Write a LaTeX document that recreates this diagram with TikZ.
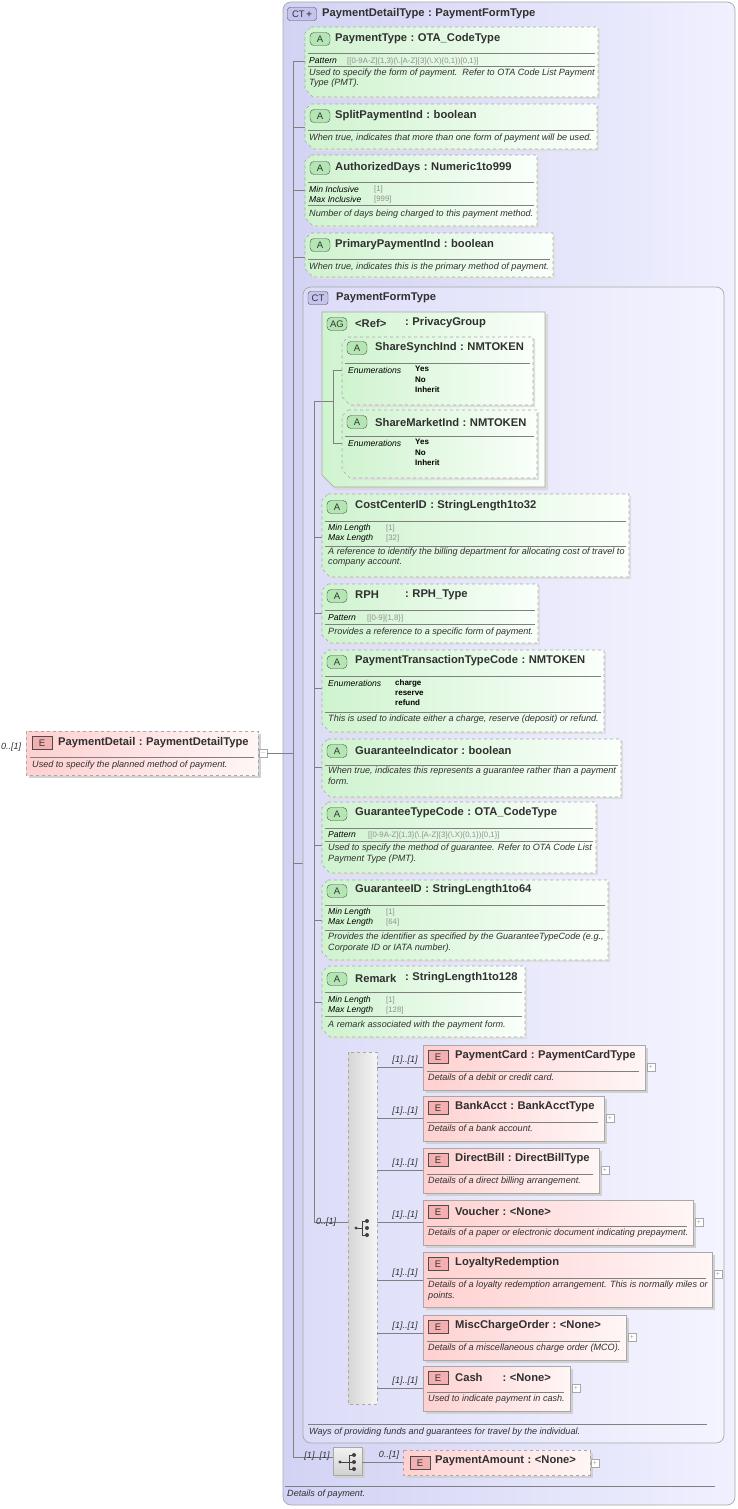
\documentclass[tikz,border=0pt]{standalone}
\usepackage{fontspec}
\setmainfont{Liberation Sans}
\definecolor{ctA}{HTML}{D2D2F4}\definecolor{ctB}{HTML}{F0F0FF}
\definecolor{ciA}{HTML}{DCDCF8}\definecolor{ciB}{HTML}{F4F4FF}
\definecolor{grA}{HTML}{CFF3CF}\definecolor{grB}{HTML}{FAFFFA}
\definecolor{pkA}{HTML}{FFD0D0}\definecolor{pkB}{HTML}{FFF6F6}
\definecolor{bg}{HTML}{A8A8A8}\definecolor{ln}{HTML}{808080}
\definecolor{txt}{HTML}{303030}\definecolor{fac}{HTML}{909090}
\definecolor{abg}{HTML}{B4E6B4}\definecolor{ebg}{HTML}{F4B0B0}\definecolor{cbg}{HTML}{C4C4EE}
\newcommand\cl{\hspace{3.5pt}:\hspace{3.5pt}}
\tikzset{
 ttl/.style={anchor=west,inner sep=0,font=\fontsize{11.2}{12}\bfseries\selectfont,text=txt},
 dsc/.style={anchor=west,inner sep=0,font=\fontsize{9.1}{10.2}\itshape\selectfont,text=txt,align=left},
 flab/.style={anchor=west,inner sep=0,font=\fontsize{8.6}{10}\itshape\selectfont,text=black},
 fval/.style={anchor=west,inner sep=0,font=\fontsize{7.8}{10}\selectfont,text=fac},
 fenum/.style={anchor=north west,inner sep=0,font=\fontsize{8}{10.3}\bfseries\selectfont,text=black,align=left},
 mult/.style={anchor=south,inner sep=0,font=\fontsize{9}{10}\itshape\selectfont,text=txt},
 conn/.style={draw=ln,line width=0.6pt},
 sepl/.style={draw=ln,line width=0.5pt},
 badge/.style={draw=black!70,rounded corners=2.5pt,minimum width=20pt,minimum height=13pt,inner sep=0,font=\fontsize{9.5}{10}\selectfont,text=black!80},
 plusbox/.style={draw=bg,fill=white,minimum size=8pt,inner sep=0,font=\fontsize{7}{7}\selectfont,text=bg},
}
\newcommand\abox[5]{%
 \fill[black!12] (#2+8,#3+2) -- (#4+2,#3+2) -- (#4+2,#5+2) -- (#2+10,#5+2) -- (#2+2,#5-6) -- (#2+2,#3+8) -- cycle;
 \path[left color=grA,right color=grB,draw=bg,dashed,line width=0.6pt] (#2+6,#3) -- (#4,#3) -- (#4,#5) -- (#2+8,#5) -- (#2,#5-8) -- (#2,#3+6) -- cycle;
 \coordinate (#1) at (#2,#3);}
\newcommand\ebox[6]{%
 \fill[black!18] (#2+3,#3+3) rectangle (#4+3,#5+3);
 \path[left color=pkA,right color=pkB,draw=bg,line width=0.6pt,#6] (#2,#3) rectangle (#4,#5);
 \coordinate (#1) at (#2,#3);}
\newcommand\abadge[3]{\node[badge,fill=abg,rounded corners=4pt] (#3) at (#1+10,#2) {A};}
\newcommand\ebadge[3]{\node[badge,rounded corners=0pt,fill=ebg] (#3) at (#1+10,#2) {E};}
\newcommand\hl[3]{\draw[sepl] (#1,#3) -- (#2,#3);}
\begin{document}
\begin{tikzpicture}[x=1pt,y=-1pt]
\useasboundingbox (0,0) rectangle (738,1509);
\fill[white] (0,0) rectangle (738,1509);
% outer CT
\path[left color=ctA,right color=ctB,draw=bg,rounded corners=8pt,line width=0.7pt] (283,2) rectangle (735,1505);
\node[badge,fill=cbg,minimum width=29pt] (ctb) at (302,14) {CT\textcolor{black!70}{\,\textbf{+}}};
\node[ttl] (ctt) at (322,14) {PaymentDetailType\cl PaymentFormType};
\hl{285}{715}{1486}
\node[dsc] (ctd) at (287,1494) {Details of payment.};
% main element
\ebox{pd}{26}{731}{258}{775}{dashed}
\ebadge{32}{743}{pdb}
\node[ttl] (pdt) at (58,743) {PaymentDetail\cl PaymentDetailType};
\hl{30}{254}{757}
\node[dsc] (pdd) at (32,765) {Used to specify the planned method of payment.};
\node[mult,anchor=west] (pdm) at (1,747) {0..[1]};
\node[plusbox] (pdm2) at (263,753) {$-$};
\coordinate (pdc) at (293,753);
\draw[conn] (pdm2.east) -- (pdc);
\coordinate (o1) at (293,61);\coordinate (o2) at (293,1457);
\draw[conn] (o1) -- (o2);
\foreach \yy in {61,127,190,257} \draw[conn] (293,\yy) -- (305,\yy);
\draw[conn] (293,863) -- (303,863);
% PaymentType
\abox{a1}{305}{27}{598}{97}
\abadge{310}{39}{a1b}
\node[ttl] at (335,39) {PaymentType\cl OTA\_CodeType};
\hl{308}{595}{53}
\node[flab] at (309,61) {Pattern};
\node[fval] at (347,61) {[[0-9A-Z]\{1,3\}(\textbackslash.[A-Z]\{3\}(\textbackslash.X)\{0,1\})\{0,1\}]};
\hl{308}{595}{66}
\node[dsc,anchor=north west] at (309,69) {Used to specify the form of payment.\ \ Refer to OTA Code List Payment\\Type (PMT).};
% SplitPaymentInd
\abox{a2}{305}{104}{597}{149}
\abadge{310}{116}{a2b}
\node[ttl] at (335,116) {SplitPaymentInd\cl boolean};
\hl{308}{594}{130}
\node[dsc] at (309,138) {When true, indicates that more than one form of payment will be used.};
% AuthorizedDays
\abox{a3}{305}{155}{537}{226}
\abadge{310}{168}{a3b}
\node[ttl] at (335,168) {AuthorizedDays\cl Numeric1to999};
\hl{308}{534}{182}
\node[flab] at (309,189) {Min Inclusive};\node[fval] at (374,189) {[1]};
\node[flab] at (309,199) {Max Inclusive};\node[fval] at (374,199) {[999]};
\hl{308}{534}{205}
\node[dsc] at (309,214) {Number of days being charged to this payment method.};
% PrimaryPaymentInd
\abox{a4}{305}{233}{553}{277}
\abadge{310}{245}{a4b}
\node[ttl] at (335,245) {PrimaryPaymentInd\cl boolean};
\hl{308}{550}{259}
\node[dsc] at (309,267) {When true, indicates this is the primary method of payment.};
% inner CT
\path[left color=ciA,right color=ciB,draw=bg,rounded corners=8pt,line width=0.7pt] (303,287) rectangle (724,1443);
\node[badge,fill=cbg] (ct2b) at (318,298) {CT};
\node[ttl] (ct2t) at (336,298) {PaymentFormType};
\hl{308}{707}{1424}
\node[dsc] at (309,1432) {Ways of providing funds and guarantees for travel by the individual.};
\coordinate (i1) at (314,401);\coordinate (i2) at (314,1222);
\draw[conn] (i1) -- (i2);
\foreach \yy in {401,537,613,688,767,845,920,1002} \draw[conn] (314,\yy) -- (322,\yy);
% AG box
\fill[black!15] (324,314) -- (548,314) -- (548,490) -- (336,490) -- (324,478) -- cycle;
\path[left color=grA,right color=grB,draw=bg,line width=0.6pt] (322,312) -- (545,312) -- (545,487) -- (334,487) -- (322,475) -- cycle;
\node[badge,fill=abg,rounded corners=4pt] (agb) at (337,324) {AG};
\node[ttl] at (355,323) {<Ref>};
\node[ttl] at (405,323) {:\hspace{3.5pt}PrivacyGroup};
\draw[conn] (333,370) -- (333,443);
\draw[conn] (322,401) -- (333,401);
\draw[conn] (333,370) -- (342,370);\draw[conn] (333,443) -- (342,443);
% ShareSynchInd
\abox{s1}{342}{337}{533}{405}
\abadge{347}{348}{s1b}
\node[ttl] at (375,348) {ShareSynchInd\cl NMTOKEN};
\hl{345}{530}{363}
\node[flab] at (348,370) {Enumerations};
\node[fenum] at (415,366) {Yes\\No\\Inherit};
% ShareMarketInd
\abox{s2}{342}{410}{537}{478}
\abadge{347}{422}{s2b}
\node[ttl] at (375,422) {ShareMarketInd\cl NMTOKEN};
\hl{345}{534}{436}
\node[flab] at (348,443) {Enumerations};
\node[fenum] at (415,439) {Yes\\No\\Inherit};
% CostCenterID
\abox{c1}{322}{494}{629}{577}
\abadge{327}{507}{c1b}
\node[ttl] at (355,506) {CostCenterID\cl StringLength1to32};
\hl{325}{626}{521}
\node[flab] at (328,528) {Min Length};\node[fval] at (386,528) {[1]};
\node[flab] at (328,538) {Max Length};\node[fval] at (386,538) {[32]};
\hl{325}{626}{546}
\node[dsc,anchor=north west] at (328,548) {A reference to identify the billing department for allocating cost of travel to\\company account.};
% RPH
\abox{c2}{322}{584}{538}{643}
\abadge{327}{596}{c2b}
\node[ttl] at (355,595) {RPH};\node[ttl] at (405,595) {:\hspace{3.5pt}RPH\_Type};
\hl{325}{535}{610}
\node[flab] at (328,618) {Pattern};\node[fval] at (367,618) {[[0-9]\{1,8\}]};
\hl{325}{535}{624}
\node[dsc] at (328,632) {Provides a reference to a specific form of payment.};
% PaymentTransactionTypeCode
\abox{c3}{322}{650}{604}{732}
\abadge{327}{662}{c3b}
\node[ttl] at (355,661) {PaymentTransactionTypeCode\cl NMTOKEN};
\hl{325}{601}{676}
\node[flab] at (328,683) {Enumerations};
\node[fenum] at (395,679) {charge\\reserve\\refund};
\hl{325}{601}{712}
\node[dsc] at (328,719) {This is used to indicate either a charge, reserve (deposit) or refund.};
% GuaranteeIndicator
\abox{c4}{322}{739}{621}{797}
\abadge{327}{751}{c4b}
\node[ttl] at (355,750) {GuaranteeIndicator\cl boolean};
\hl{325}{618}{765}
\node[dsc,anchor=north west] at (328,767) {When true, indicates this represents a guarantee rather than a payment\\form.};
% GuaranteeTypeCode
\abox{c5}{322}{802}{596}{873}
\abadge{327}{814}{c5b}
\node[ttl] at (355,813) {GuaranteeTypeCode\cl OTA\_CodeType};
\hl{325}{593}{828}
\node[flab] at (328,835) {Pattern};
\node[fval] at (368,835) {[[0-9A-Z]\{1,3\}(\textbackslash.[A-Z]\{3\}(\textbackslash.X)\{0,1\})\{0,1\}]};
\hl{325}{593}{841}
\node[dsc,anchor=north west] at (328,844) {Used to specify the method of guarantee. Refer to OTA Code List\\Payment Type (PMT).};
% GuaranteeID
\abox{c6}{322}{880}{608}{960}
\abadge{327}{891}{c6b}
\node[ttl] at (355,890) {GuaranteeID\cl StringLength1to64};
\hl{325}{605}{905}
\node[flab] at (328,912) {Min Length};\node[fval] at (386,912) {[1]};
\node[flab] at (328,922) {Max Length};\node[fval] at (386,922) {[64]};
\hl{325}{605}{930}
\node[dsc,anchor=north west] at (328,933) {Provides the identifier as specified by the GuaranteeTypeCode (e.g.,\\Corporate ID or IATA number).};
% Remark
\abox{c7}{322}{966}{525}{1037}
\abadge{327}{979}{c7b}
\node[ttl] at (355,978) {Remark};\node[ttl] at (405,978) {:\hspace{3.5pt}StringLength1to128};
\hl{325}{522}{992}
\node[flab] at (328,1000) {Min Length};\node[fval] at (386,1000) {[1]};
\node[flab] at (328,1010) {Max Length};\node[fval] at (386,1010) {[128]};
\hl{325}{522}{1016}
\node[dsc] at (328,1025) {A remark associated with the payment form.};
% choice compartment
\path[left color=black!16,right color=black!4,draw=bg,dashed,line width=0.6pt] (348,1052) rectangle (377,1404);
\draw[conn] (i2) -- (348,1222);
\node[mult,anchor=south west] at (316,1227) {0..[1]};
\coordinate (chc) at (362,1228);
\fill[black!75] (356,1228) circle (1.6);
\draw[black!75,line width=0.8pt] (356,1228) -- (362,1228) (362,1221) -- (362,1235) (362,1221)--(366,1221) (362,1235)--(366,1235);
\foreach \yy in {1221,1228,1235} \fill[black!75] (367,\yy) circle (2);
\newcommand\chel[7]{%
 \ebox{#1}{423}{#2}{#3}{#4}{}
 \ebadge{428}{#2+12}{#1b}
 \node[ttl] (#1t) at (455,#2+11) {#5};
 \hl{427}{#3-6}{#2+26}
 \node[dsc,anchor=north west] (#1d) at (428,#2+29) {#6};
 \node[plusbox] (#1p) at (#3+6,#2+22) {+};
 \draw[conn] (377,#7) -- (423,#7);
 \node[mult] at (405,#7-2) {[1]..[1]};}
\chel{e1}{1045}{645}{1090}{PaymentCard\cl PaymentCardType}{Details of a debit or credit card.}{1067}
\chel{e2}{1096}{604}{1141}{BankAcct\cl BankAcctType}{Details of a bank account.}{1118}
\chel{e3}{1148}{599}{1193}{DirectBill\cl DirectBillType}{Details of a direct billing arrangement.}{1170}
\chel{e4}{1200}{693}{1245}{Voucher\cl <None>}{Details of a paper or electronic document indicating prepayment.}{1222}
\chel{e5}{1252}{712}{1307}{LoyaltyRedemption}{Details of a loyalty redemption arrangement. This is normally miles or\\points.}{1280}
\chel{e6}{1315}{626}{1360}{MiscChargeOrder\cl <None>}{Details of a miscellaneous charge order (MCO).}{1333}
\chel{e7}{1366}{570}{1411}{Cash\hspace{20pt}:\hspace{3.5pt}<None>}{Used to indicate payment in cash.}{1388}
% bottom sequence
\draw[conn] (o2) -- (333,1457);
\node[mult] at (317,1461) {[1]..[1]};
\fill[black!18] (335,1449) rectangle (365,1478);
\path[top color=black!5,bottom color=black!18,draw=bg] (333,1447) rectangle (362,1475);
\coordinate (sq) at (362,1462);
\fill[black!75] (340,1462) circle (1.6);
\draw[black!75,line width=0.8pt] (340,1462) -- (353,1462) (349,1455) -- (349,1469) (349,1455)--(353,1455) (349,1469)--(353,1469);
\foreach \yy in {1455,1462,1469} \fill[black!75] (354,\yy) circle (2);
\ebox{pa}{403}{1450}{590}{1475}{dashed}
\ebadge{410}{1463}{pab}
\node[ttl] (pat) at (435,1461) {PaymentAmount\cl <None>};
\node[plusbox] (pap) at (595,1463) {+};
\draw[conn] (sq) -- (pa |- sq);
\node[mult] at (389,1460) {0..[1]};
\end{tikzpicture}
\end{document}
